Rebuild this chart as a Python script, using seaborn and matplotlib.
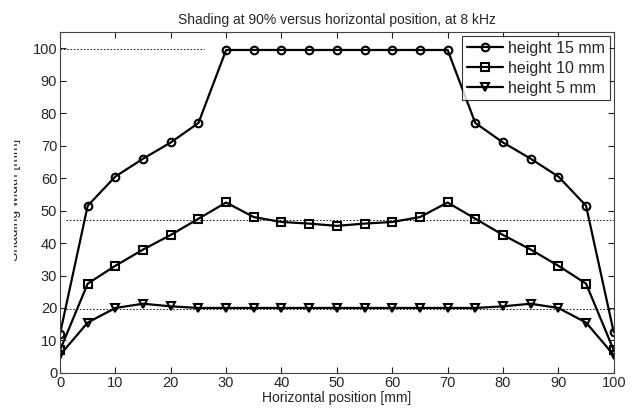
import matplotlib
matplotlib.use('Agg')
import matplotlib.pyplot as plt
import seaborn as sns
import pandas as pd

# Data
position = [0, 5, 10, 15, 20, 25, 30, 35, 40, 45, 50, 55, 60, 65, 70, 75, 80, 85, 90, 95, 100]
height_15 = [12, 51.5, 60.5, 66, 71, 77, 99.5, 99.5, 99.5, 99.5, 99.5, 99.5, 99.5, 99.5, 99.5,
             77, 71, 66, 60.5, 51.5, 12.5]
height_10 = [7, 27.5, 33, 38, 42.5, 47.5, 52.5, 48, 46.5, 46, 45.3, 46, 46.5, 48, 52.5,
             47.5, 42.5, 38, 33, 27.5, 7]
height_5 = [5.5, 15.5, 20, 21.3, 20.5, 20, 20, 20, 20, 20, 20, 20, 20, 20, 20,
            20, 20.5, 21.3, 20, 15.5, 5.5]
series_labels = ['height 15 mm', 'height 10 mm', 'height 5 mm']
series_markers = ['o', 's', 'v']
ref_levels = [99.7, 47, 19.6]

sns.set_style('ticks')
plt.rcParams['font.family'] = ['Liberation Sans', 'DejaVu Sans']

fig = plt.figure(figsize=(6.35, 4.12), dpi=100)
ax = fig.add_axes([0.0945, 0.095, 0.872, 0.827])

# dotted reference lines
ax.plot([0, 26], [ref_levels[0], ref_levels[0]], ls=(0, (2, 2)), color='black', lw=0.6)
ax.plot([1, 100], [ref_levels[1], ref_levels[1]], ls=(0, (2, 2)), color='black', lw=0.6)
ax.plot([1, 100], [ref_levels[2], ref_levels[2]], ls=(0, (2, 2)), color='black', lw=0.6)

df = pd.DataFrame({'x': position * 3,
                   'y': height_15 + height_10 + height_5,
                   'series': [s for s in series_labels for _ in position]})

for lab, mk in zip(series_labels, series_markers):
    sub = df[df['series'] == lab]
    sns.lineplot(data=sub, x='x', y='y', ax=ax, color='black', lw=1.6,
                 marker=mk, markersize=5.5, markerfacecolor='none',
                 markeredgecolor='black', markeredgewidth=1.5, label=lab)

ax.set_xlim(0, 100)
ax.set_ylim(0, 105)
ax.set_xticks(range(0, 101, 10))
ax.set_yticks(range(0, 101, 10))
ax.tick_params(direction='in', top=True, right=True, length=4, width=0.8,
               labelsize=10.5, pad=2, color='#222222')
for sp in ax.spines.values():
    sp.set_linewidth(0.8)
    sp.set_color('#444444')
    sp.set_visible(True)

ax.set_title('Shading at 90% versus horizontal position, at 8 kHz', fontsize=10, pad=6)
ax.set_xlabel('Horizontal position [mm]', fontsize=10, labelpad=1)
ax.set_ylabel('')
# y label sits partly off the left edge, as in the reference
fig.text(21 / 635, 0.515, 'Shading width [mm]', rotation=90, ha='right', va='center',
         fontsize=10)

leg = ax.legend(loc='upper right', fontsize=11.5, frameon=True, fancybox=False,
                borderaxespad=0.25, handlelength=2.3, handletextpad=0.3,
                labelspacing=0.3, borderpad=0.3)
leg.get_frame().set_edgecolor('black')
leg.get_frame().set_linewidth(0.8)

fig.patches.append(plt.Rectangle((0, 0), 14 / 635, 1, transform=fig.transFigure,
                                 facecolor='white', edgecolor='none', zorder=10))

fig.savefig('out.png', dpi=100)
